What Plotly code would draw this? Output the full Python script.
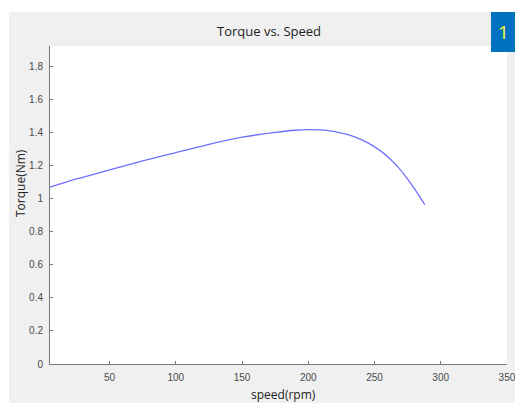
import plotly.graph_objects as go

speed = [5, 25, 50, 75, 100, 125, 150, 175, 190, 200, 210, 220, 230, 240, 248, 255, 262, 268, 274, 279, 284, 288]
torque = [1.07, 1.12, 1.175, 1.23, 1.28, 1.33, 1.373, 1.402, 1.415, 1.419, 1.417, 1.407, 1.388, 1.358, 1.325, 1.287, 1.24, 1.19, 1.13, 1.075, 1.015, 0.965]
xticks = [50, 100, 150, 200, 250, 300, 350]
yticks = [0, 0.2, 0.4, 0.6, 0.8, 1.0, 1.2, 1.4, 1.6, 1.8]

W, H = 515, 403
L, R, T, B = 50, 8, 46, 39
PW, PH = W - L - R, H - T - B

def px(x):
    return (x - L) / PW

def py(y):
    return (H - B - y) / PH

fig = go.Figure()
fig.add_trace(go.Scatter(x=speed, y=torque, mode="lines",
                         line=dict(color="#7070ff", width=1.3, shape="spline", smoothing=0.8),
                         showlegend=False, hoverinfo="skip"))

axis_font = dict(family="Liberation Sans, Arial", size=10, color="#4a4a4a")
fig.update_layout(
    width=W, height=H,
    margin=dict(l=L, r=R, t=T, b=B),
    paper_bgcolor="#f0f0f0", plot_bgcolor="white",
    xaxis=dict(range=[5, 350.05], tickvals=xticks, ticks="inside", ticklen=3,
               tickcolor="#7a7a7a", showline=True, linecolor="#7a7a7a", linewidth=1,
               showgrid=False, zeroline=False, tickfont=axis_font, ticklabelstandoff=4,
               ticklabeloverflow="allow", automargin=False),
    yaxis=dict(range=[0, 1.925], tickvals=yticks, ticks="inside", ticklen=3,
               tickcolor="#7a7a7a", showline=True, linecolor="#7a7a7a", linewidth=1,
               showgrid=False, zeroline=False, tickfont=axis_font, ticklabelstandoff=4,
               ticklabeloverflow="allow", automargin=False),
    shapes=[
        dict(type="rect", xref="paper", yref="paper", x0=px(0), x1=px(9), y0=py(H), y1=py(0),
             fillcolor="white", line_width=0, layer="below"),
        dict(type="rect", xref="paper", yref="paper", x0=px(0), x1=px(W), y0=py(12), y1=py(0),
             fillcolor="white", line_width=0, layer="below"),
        dict(type="rect", xref="paper", yref="paper", x0=px(491), x1=px(W + 2), y0=py(52), y1=py(12),
             fillcolor="#0070c0", line_width=0, layer="above"),
    ],
    annotations=[
        dict(text="Torque vs. Speed", xref="paper", yref="paper", x=px(268.5), y=py(31),
             showarrow=False, font=dict(family="Open Sans", size=13, color="#222222"),
             xanchor="center", yanchor="middle"),
        dict(text="1", xref="paper", yref="paper", x=px(503), y=py(32),
             showarrow=False, font=dict(family="Open Sans", size=19, color="#ffff33"),
             xanchor="center", yanchor="middle"),
        dict(text="speed(rpm)", xref="paper", yref="paper", x=px(283), y=py(394),
             showarrow=False, font=dict(family="Open Sans", size=12, color="#222222"),
             xanchor="center", yanchor="middle"),
        dict(text="Torque(Nm)", xref="paper", yref="paper", x=px(20), y=py(183),
             showarrow=False, textangle=-90, font=dict(family="Open Sans", size=12, color="#222222"),
             xanchor="center", yanchor="middle"),
    ],
)

fig.write_html("out.html")
